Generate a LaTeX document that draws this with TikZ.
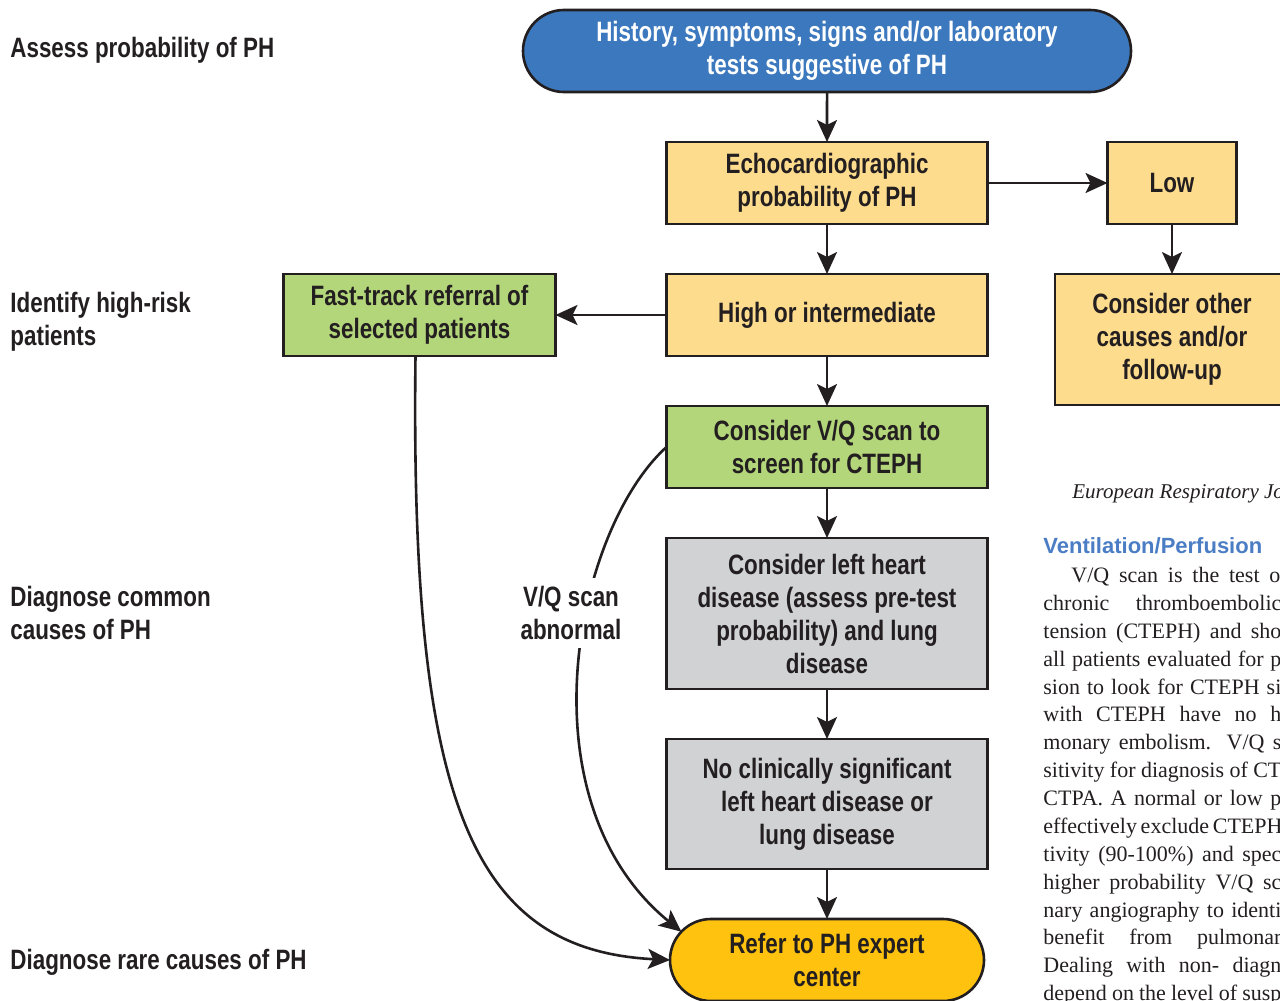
\documentclass[tikz,border=0pt]{standalone}
\usepackage{fontspec}
\setmainfont{Liberation Sans}
\newfontfamily\diagfont{Liberation Sans}[FakeStretch=0.8]
\newfontfamily\pagefont{Liberation Serif}
\usetikzlibrary{arrows.meta,positioning,shapes.misc}
\definecolor{phblue}{HTML}{3B78BE}
\definecolor{phyellow}{HTML}{FEDC8E}
\definecolor{phgreen}{HTML}{B4D67A}
\definecolor{phgray}{HTML}{D1D2D4}
\definecolor{phgold}{HTML}{FFC20E}
\definecolor{phline}{HTML}{231F20}
\definecolor{headblue}{HTML}{4A7DC4}

\begin{document}
\begin{tikzpicture}[
        x=0.5pt, y=-0.5pt,
        node distance=25pt,
        font=\diagfont\bfseries\fontsize{14pt}{16.5pt}\selectfont,
        text=phline,
        box/.style={
          draw=phline,
          line width=1.3pt,
          minimum width=160.5pt,
          minimum height=41pt,
          align=center,
          inner sep=2pt,
          outer sep=0pt
        },
        pill/.style={box, rounded rectangle},
        arrow/.style={
          -{Stealth[length=11pt,width=10pt,inset=2.5pt]},
          line width=1.3pt,
          phline
        },
        side/.style={anchor=west, align=left, inner sep=0pt},
        page/.style={anchor=base west, inner sep=0pt,
          font=\pagefont\fontsize{11pt}{14pt}\selectfont}
      ]

      \clip (0,0) rectangle (1280,1001);

      % main column
      \node[pill, fill=phblue, text=white, minimum width=308pt] (hist) at (827,51)
        {History, symptoms, signs and/or laboratory\\tests suggestive of PH};
      \node[box, fill=phyellow, below=of hist] (echo) {Echocardiographic\\probability of PH};
      \node[box, fill=phyellow, below=of echo] (high) {High or intermediate};
      \node[box, fill=phgreen, below=of high] (vq) {Consider V/Q scan to\\screen for CTEPH};
      \node[box, fill=phgray, below=of vq, minimum height=75.5pt] (lhd)
        {Consider left heart\\disease (assess pre-test\\probability) and lung\\disease};
      \node[box, fill=phgray, below=of lhd, minimum height=65pt] (nocl)
        {No clinically significant\\left heart disease or\\lung disease};
      \node[pill, fill=phgold, below=of nocl, minimum width=161pt] (refer) {Refer to PH expert\\center};

      % side branches
      \node[box, fill=phyellow, right=60pt of echo, minimum width=64.5pt] (low) {Low};
      \node[box, fill=phyellow, below=of low, minimum width=117pt, minimum height=65.5pt] (other)
        {Consider other\\causes and/or\\follow-up};
      \node[box, fill=phgreen, left=55.5pt of high, minimum width=136pt] (fast)
        {Fast-track referral of\\selected patients};

      % stage labels
      \node[side] (assess) at (10,50) {Assess probability of PH};
      \node[side] (risk) at (10,322) {Identify high-risk\\patients};
      \node[side] (common) at (10,613) {Diagnose common\\causes of PH};
      \node[side] (rare) at (10,962) {Diagnose rare causes of PH};

      \draw[arrow] (hist) -- (echo);
      \draw[arrow] (echo) -- (high);
      \draw[arrow] (high) -- (vq);
      \draw[arrow] (vq) -- (lhd);
      \draw[arrow] (lhd) -- (nocl);
      \draw[arrow] (nocl) -- (refer);
      \draw[arrow] (echo) -- (low);
      \draw[arrow] (low) -- (other);
      \draw[arrow] (high) -- (fast);
      \draw[arrow] ([xshift=-2pt]fast.south) .. controls (410,800) and (470,950) .. (refer.west);
      \draw[arrow] (vq.west) .. controls (575,530) and (520,800) .. (refer.169);
      \node[fill=white, align=center, inner sep=4pt] (abnormal) at (571,613) {V/Q scan\\abnormal};

      % page text
      \node[page, font=\pagefont\itshape\fontsize{10.5pt}{14pt}\selectfont] (journal) at (1072,498)
        {European Respiratory Jo};
      \node[anchor=base west, inner sep=0pt, text=headblue,
        font=\rmfamily\bfseries\fontsize{11pt}{13pt}\selectfont] (vphead) at (1043,553)
        {Ventilation/Perfusion};
      \node[page] (p1) at (1071,582) {\makebox[104.5pt][s]{V/Q scan is the test o}};
      \node[page] (p2) at (1043,610) {\makebox[119pt][s]{chronic thromboembolic}};
      \node[page] (p3) at (1043,638) {\makebox[119pt][s]{tension (CTEPH) and sho}};
      \node[page] (p4) at (1043,666) {\makebox[119pt][s]{all patients evaluated for p}};
      \node[page] (p5) at (1043,694) {\makebox[119pt][s]{sion to look for CTEPH si}};
      \node[page] (p6) at (1043,721) {\makebox[119pt][s]{with CTEPH have no h}};
      \node[page] (p7) at (1043,749) {\makebox[119pt][s]{monary embolism. V/Q s}};
      \node[page] (p8) at (1043,777) {\makebox[119pt][s]{sitivity for diagnosis of CT}};
      \node[page] (p9) at (1043,805) {\makebox[119pt][s]{CTPA. A normal or low p}};
      \node[page] (p10) at (1043,833) {\makebox[119pt][s]{effectively exclude CTEPH}};
      \node[page] (p11) at (1043,861) {\makebox[119pt][s]{tivity (90-100\%) and spec}};
      \node[page] (p12) at (1043,889) {\makebox[119pt][s]{higher probability V/Q sc}};
      \node[page] (p13) at (1043,917) {\makebox[119pt][s]{nary angiography to identi}};
      \node[page] (p14) at (1043,944) {\makebox[119pt][s]{benefit from pulmonar}};
      \node[page] (p15) at (1043,972) {\makebox[119pt][s]{Dealing with non- diagn}};
      \node[page] (p16) at (1043,1000) {\makebox[119pt][s]{depend on the level of susp}};

      \end{tikzpicture}
\end{document}
